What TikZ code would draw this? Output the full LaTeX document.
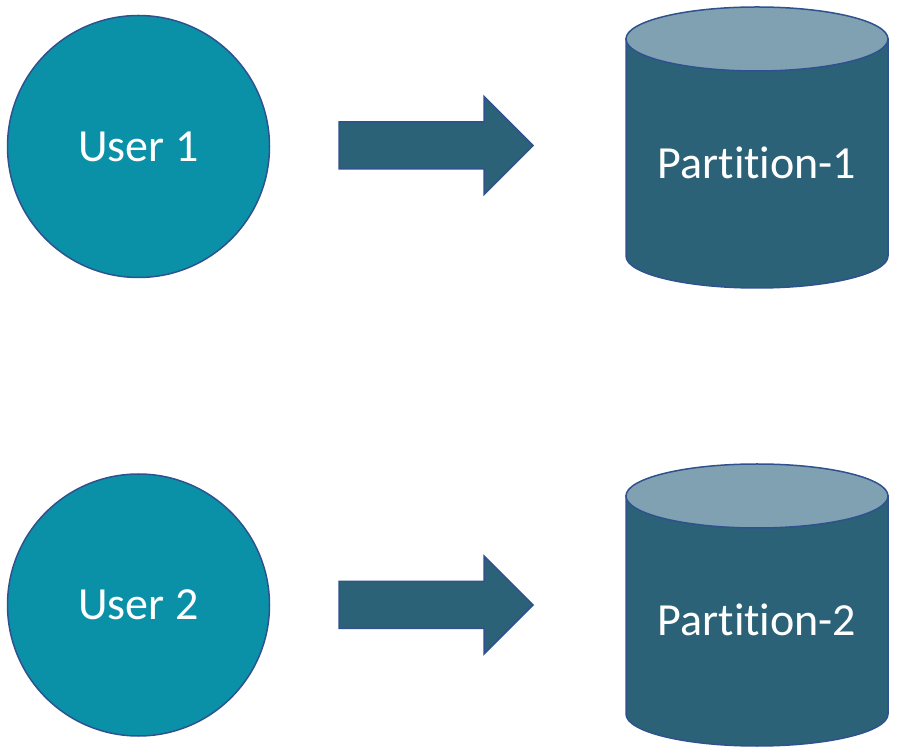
\documentclass[tikz,border=0pt]{standalone}
\usepackage{fontspec}
\setmainfont{Carlito}[Ligatures=NoCommon]
\usepackage{tikz}
\usetikzlibrary{positioning,calc}
\definecolor{userteal}{RGB}{10, 145, 168}
\definecolor{edgeblue}{RGB}{47, 82, 143}
\definecolor{partdark}{RGB}{43, 98, 120}
\definecolor{parttop}{RGB}{127, 161, 177}

\begin{document}
\begin{tikzpicture}[
    x=1pt, y=1pt,
    usernode/.style={circle, draw=edgeblue, fill=userteal, line width=1.5pt, minimum size=262pt, inner sep=0pt, text=white, font=\fontsize{46}{55}\selectfont},
    partlabel/.style={text=white, font=\fontsize{46}{55}\selectfont},
    partbody/.style={draw=edgeblue, fill=partdark, line width=1.5pt},
    parttopend/.style={draw=edgeblue, fill=parttop, line width=1.5pt},
    blockarrow/.style={draw=edgeblue, fill=partdark, line width=1.5pt, line join=miter}
]
    \useasboundingbox (0,0) rectangle (897,750);

    % users
    \node[usernode] (user1) at (138.5,603.5) {User 1};
    \node[usernode] (user2) at (138.5,145) {User 2};

    % partitions (drawn cylinders)
    \foreach \yt/\yb in {711/494, 254/36} {
        \draw[partbody] (626,\yt) -- (626,\yb) arc (180:360:131 and 32) -- (888,\yt) -- cycle;
        \draw[parttopend] (757,\yt) ellipse (131 and 32);
    }
    \node[partlabel] (part1) at (757,587) {Partition-1};
    \node[partlabel] (part2) at (757,130) {Partition-2};

    % block arrows
    \foreach \ya in {604.5, 145} {
        \draw[blockarrow] (339,\ya+23.5) -- (484,\ya+23.5) -- (484,\ya+49) -- (533,\ya)
            -- (484,\ya-49) -- (484,\ya-23.5) -- (339,\ya-23.5) -- cycle;
    }
\end{tikzpicture}
\end{document}
